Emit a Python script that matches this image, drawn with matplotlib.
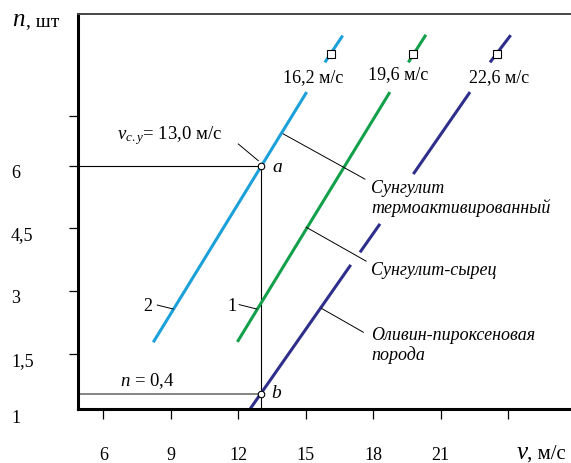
import matplotlib
matplotlib.use('Agg')
import matplotlib.pyplot as plt
from matplotlib.transforms import ScaledTranslation

plt.rcParams['font.family'] = ['Liberation Serif', 'DejaVu Serif']
plt.rcParams['mathtext.fontset'] = 'custom'
plt.rcParams['mathtext.rm'] = 'Liberation Serif'
plt.rcParams['mathtext.it'] = 'Liberation Serif:italic'

# Ticks
x_ticks = [6, 9, 12, 15, 18, 21, 24]
x_tick_labels = ['6', '9', '12', '15', '18', '21', '']
y_ticks = [1.5, 3.0, 4.5, 6.0, 7.2]
y_tick_labels = ['1,5', '3', '4,5', '6', '']

# Lines as (v, n) segments, gaps are where the text crosses
thermo_v = [[8.22, 15.04], [15.85, 16.64]]
thermo_n = [[1.78, 7.76], [8.47, 9.11]]
raw_v = [[11.96, 18.74], [19.56, 20.34]]
raw_n = [[1.79, 7.76], [8.47, 9.13]]
olivine_v = [[12.53, 17.00], [17.41, 18.30], [19.78, 22.30], [23.19, 24.11]]
olivine_n = [[0.19, 3.63], [3.93, 4.61], [5.80, 7.76], [8.47, 9.12]]

# Threshold speed markers
square_v = [16.11, 19.78, 23.48]
square_n = [8.67, 8.67, 8.67]
speed_labels = ['16,2 м/с', '19,6 м/с', '22,6 м/с']

# Points a and b
v_cy = 13.0
n_a = 6.0
n_b = 0.54

c_thermo = '#1ba0da'
c_raw = '#12a04a'
c_olivine = '#2e2f8c'

fig = plt.figure(figsize=(5.71, 4.64), dpi=100)
ax = fig.add_axes([77.7 / 571, 54 / 464, (571 - 77.7) / 571, 395 / 464])
ax.set_xlim(4.862, 26.79)
ax.set_ylim(0.1855, 9.626)

# reference lines through a and b
ax.plot([4.862, v_cy], [n_a, n_a], color='black', lw=0.8)
ax.plot([v_cy, v_cy], [0.1855, n_a], color='black', lw=0.8)
ax.plot([4.862, v_cy], [n_b, n_b], color='#707070', lw=1.2)

for segs_v, segs_n, col in [(thermo_v, thermo_n, c_thermo),
                            (raw_v, raw_n, c_raw),
                            (olivine_v, olivine_n, c_olivine)]:
    for sv, sn in zip(segs_v, segs_n):
        ax.plot(sv, sn, color=col, lw=2.2, solid_capstyle='butt')

ax.plot(square_v, square_n, 's', ms=5.5, mfc='white', mec='black', mew=0.8, zorder=5)
ax.plot([v_cy, v_cy], [n_a, n_b], 'o', ms=4.7, mfc='white', mec='black', mew=0.8, zorder=5)

# leader lines
lw_l = 0.7
ax.plot([12.0, 12.89], [6.52, 6.12], color='black', lw=lw_l)
ax.plot([8.40, 9.11], [2.67, 2.575], color='black', lw=lw_l)
ax.plot([12.04, 12.82], [2.68, 2.575], color='black', lw=lw_l)
ax.plot([14.0, 17.63], [6.76, 5.68], color='black', lw=lw_l)
ax.plot([15.02, 17.68], [4.53, 3.72], color='black', lw=lw_l)
ax.plot([15.7, 17.56], [2.59, 2.02], color='black', lw=lw_l)

fs = 13
for sv, lab, yy in zip(square_v, speed_labels, [8.12, 8.19, 8.14]):
    ax.text(sv - 0.8 if sv < 17 else sv - 0.68 if sv < 21 else sv + 0.11, yy, lab,
            fontsize=fs, ha='center', va='center')

ax.text(6.61, 6.66, r'$v_{c.y}$= 13,0 м/с', fontsize=13.5, ha='left', va='baseline')
ax.text(13.72, 5.98, 'a', fontsize=14, style='italic', ha='center', va='center')
ax.text(13.68, 0.59, 'b', fontsize=14, style='italic', ha='center', va='center')
ax.text(7.95, 0.88, r'$n$ = 0,4', fontsize=13.5, ha='center', va='center')
ax.text(7.99, 2.67, '2', fontsize=fs, ha='center', va='center')
ax.text(11.71, 2.67, '1', fontsize=fs, ha='center', va='center')

ax.text(17.9, 5.24, 'Сунгулит\nтермоактивированный', fontsize=fs, style='italic',
        ha='left', va='center', linespacing=1.1)
ax.text(17.9, 3.53, 'Сунгулит-сырец', fontsize=fs, style='italic', ha='left', va='center')
ax.text(17.9, 1.73, 'Оливин-пироксеновая\nпорода', fontsize=fs, style='italic',
        ha='left', va='center', linespacing=1.1)

# axes styling
ax.spines['right'].set_visible(False)
ax.spines['left'].set_linewidth(2.2)
ax.spines['bottom'].set_linewidth(2.2)
ax.spines['top'].set_linewidth(1.4)
ax.spines['top'].set_color('#444444')

ax.set_xticks(x_ticks, x_tick_labels)
ax.set_yticks(y_ticks, y_tick_labels)
ax.tick_params(axis='x', direction='out', length=7.2, width=0.9, pad=19.5, labelsize=fs)
ax.tick_params(axis='y', direction='out', length=6.5, width=0.9, pad=41.5, labelsize=fs)
offset = ScaledTranslation(0, -0.045, fig.dpi_scale_trans)
for lbl in ax.get_yticklabels():
    lbl.set_horizontalalignment('left')
    lbl.set_transform(lbl.get_transform() + offset)

fig.text(11 / 571, (464 - 419) / 464, '1', fontsize=fs, ha='left', va='center')

# axis titles
fig.text(12 / 571, (464 - 26) / 464, 'n', fontsize=18, style='italic', va='baseline')
fig.text(26 / 571, (464 - 26) / 464, ', шт', fontsize=14, va='baseline')
fig.text(517 / 571, (464 - 459) / 464, 'v', fontsize=18, style='italic', va='baseline')
fig.text(527 / 571, (464 - 459) / 464, ', м/с', fontsize=15, va='baseline')

fig.savefig('out.png', dpi=100)
